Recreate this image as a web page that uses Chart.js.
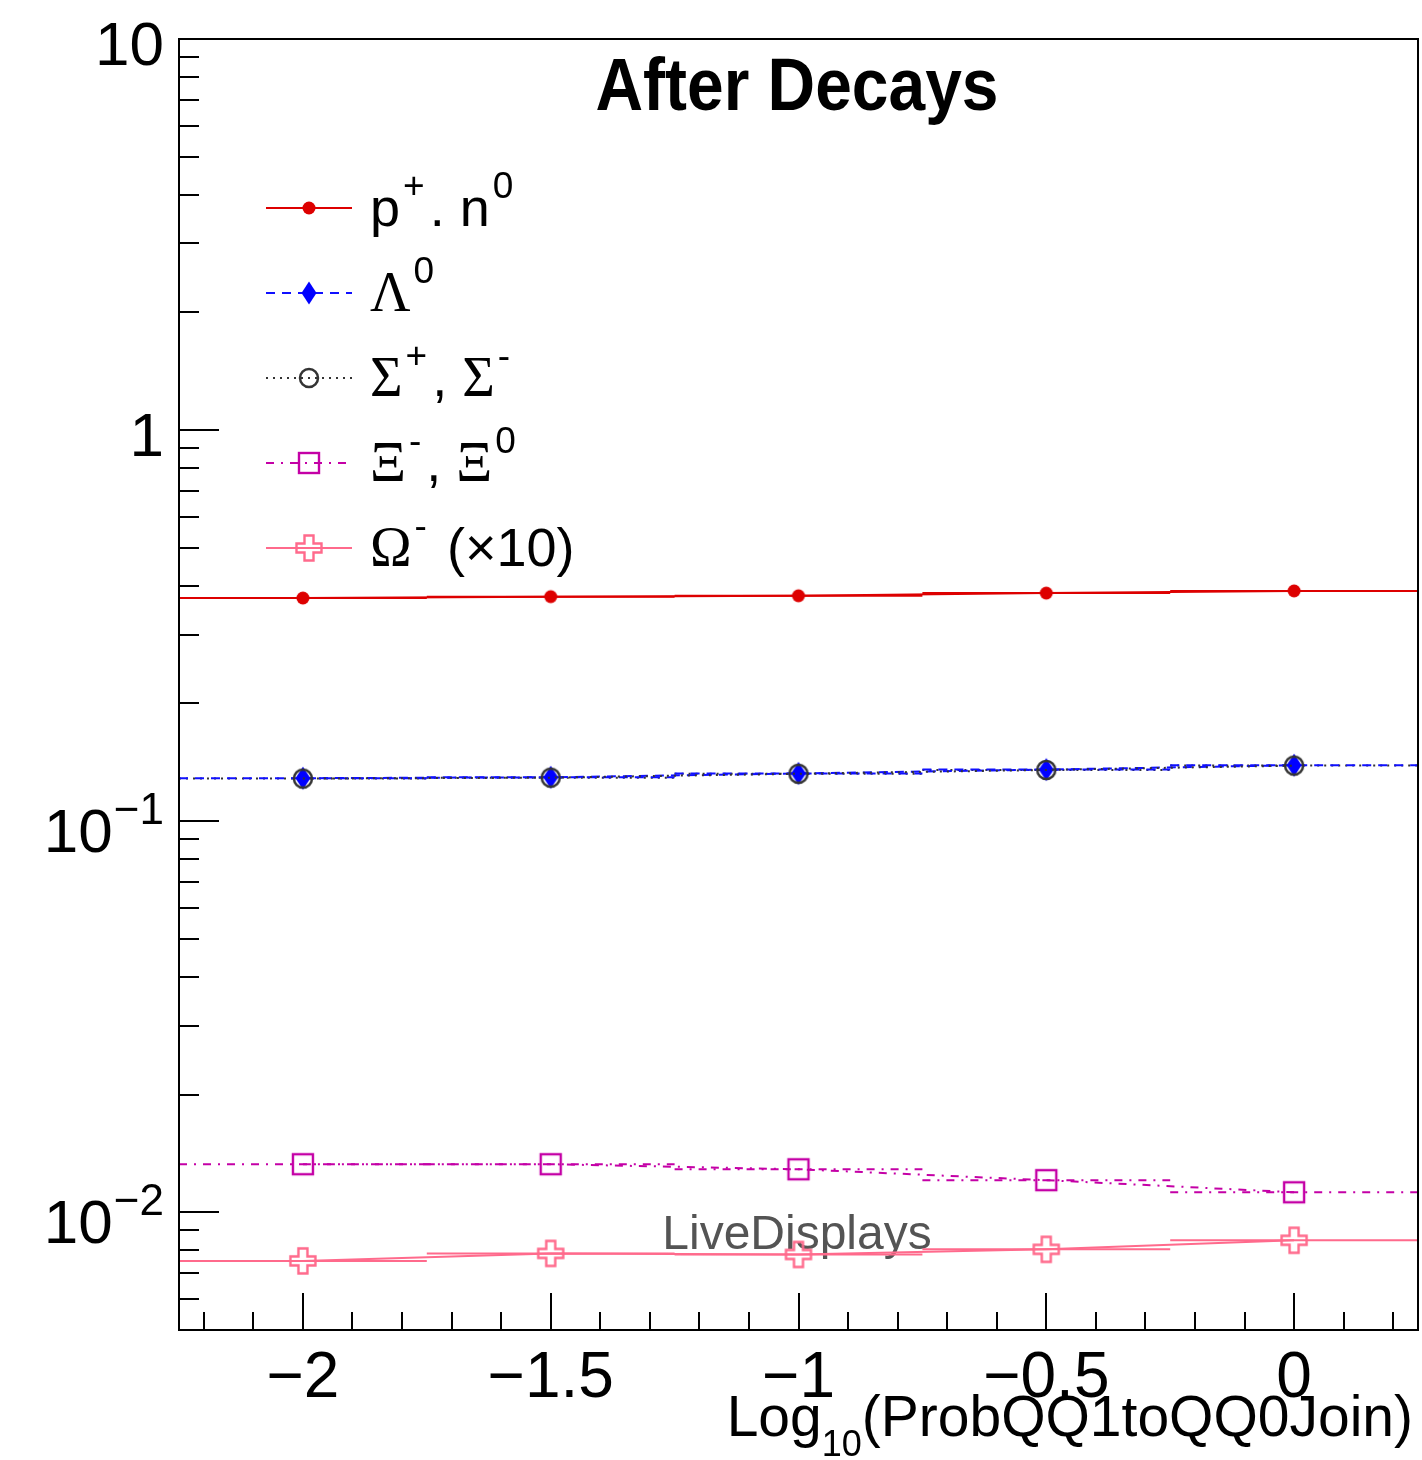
<!DOCTYPE html>
<html><head><meta charset="utf-8">
<script src="https://cdn.jsdelivr.net/npm/chart.js@4.4.1/dist/chart.umd.min.js"></script>
<style>html,body{margin:0;padding:0;background:#fff;} canvas{display:block;}</style>
</head><body>
<canvas id="c" width="1422" height="1460"></canvas>
<script>
// ---- data ----
const xValues = [-2, -1.5, -1, -0.5, 0];
const protonNeutron = [0.372, 0.375, 0.377, 0.383, 0.388];
const lambda0 = [0.1288, 0.1295, 0.1325, 0.1355, 0.1390];
const sigmaPM = [0.1285, 0.1292, 0.1322, 0.1352, 0.1387];
const xiM0 = [0.01327, 0.01327, 0.01288, 0.01208, 0.01125];
const omegaX10 = [0.00751, 0.00785, 0.00780, 0.00804, 0.00848];

const xTickValues = [-2, -1.5, -1, -0.5, 0];
const xTickLabels = ['\u22122', '\u22121.5', '\u22121', '\u22120.5', '0'];
const yTickValues = [10, 1, 0.1, 0.01];
const yTickLabels = [['10', ''], ['1', ''], ['10', '\u22121'], ['10', '\u22122']];

const titleText = 'After Decays';
const watermarkText = 'LiveDisplays';
const xTitleRuns = [{t: 'Log', sub: false}, {t: '10', sub: true}, {t: '(ProbQQ1toQQ0Join)', sub: false}];

const SANS = '"Liberation Sans", Arial, Helvetica, sans-serif';
const SERIF = '"Liberation Serif", "Times New Roman", serif';

// legend labels as text runs (f: s=sans, g=serif greek, u=superscript)
const legendLabels = [
  [{t: 'p', f: 's'}, {t: '+', f: 'u'}, {t: '. n', f: 's'}, {t: '0', f: 'u'}],
  [{t: '\u039B', f: 'g'}, {t: '0', f: 'u'}],
  [{t: '\u03A3', f: 'g'}, {t: '+', f: 'u'}, {t: ', ', f: 's'}, {t: '\u03A3', f: 'g'}, {t: '-', f: 'u'}],
  [{t: '\u039E', f: 'g'}, {t: '-', f: 'u'}, {t: ', ', f: 's'}, {t: '\u039E', f: 'g'}, {t: '0', f: 'u'}],
  [{t: '\u03A9', f: 'g'}, {t: '-', f: 'u'}, {t: ' (\u00D710)', f: 's'}]
];

// ---- markers ----
function mk(w, h, draw) {
  const c = document.createElement('canvas');
  c.width = w; c.height = h;
  draw(c.getContext('2d'));
  return c;
}
const RED = '#dd0000', BLUE = '#1010ff', GREY = '#333333', MAG = '#c400a6', PINK = '#ff6a8c';
const mDot = mk(16, 16, g => { g.fillStyle = RED; g.beginPath(); g.arc(8, 8, 6.5, 0, Math.PI * 2); g.fill(); });
const mDiamond = mk(20, 26, g => { g.fillStyle = '#0000ff'; g.beginPath(); g.moveTo(10, 1.5); g.lineTo(17.5, 13); g.lineTo(10, 24.5); g.lineTo(2.5, 13); g.closePath(); g.fill(); });
const mCircle = mk(24, 24, g => { g.strokeStyle = GREY; g.lineWidth = 2.5; g.beginPath(); g.arc(12, 12, 9, 0, Math.PI * 2); g.stroke(); });
const mSquare = mk(26, 26, g => { g.strokeStyle = MAG; g.lineWidth = 2.4; g.strokeRect(3, 3, 20, 20); });
const mCross = mk(30, 30, g => {
  g.strokeStyle = PINK; g.lineWidth = 2.4; const c = 15, a = 4.5, L = 12.5;
  g.beginPath();
  g.moveTo(c - a, c - L); g.lineTo(c + a, c - L); g.lineTo(c + a, c - a); g.lineTo(c + L, c - a);
  g.lineTo(c + L, c + a); g.lineTo(c + a, c + a); g.lineTo(c + a, c + L); g.lineTo(c - a, c + L);
  g.lineTo(c - a, c + a); g.lineTo(c - L, c + a); g.lineTo(c - L, c - a); g.lineTo(c - a, c - a); g.closePath();
  g.stroke();
});

const series = [
  {vals: protonNeutron, color: RED, dash: [], marker: mDot},
  {vals: lambda0, color: BLUE, dash: [9, 7], marker: mDiamond},
  {vals: sigmaPM, color: GREY, dash: [2, 5], marker: mCircle},
  {vals: xiM0, color: MAG, dash: [8, 7, 2, 7], marker: mSquare},
  {vals: omegaX10, color: PINK, dash: [], marker: mCross}
];

const halfBin = (xValues[1] - xValues[0]) / 2;
const datasets = [];
// markers + polylines
series.slice().reverse().forEach(s => {
  datasets.push({
    data: xValues.map((x, i) => ({x: x, y: s.vals[i]})),
    showLine: true, borderColor: s.color, borderWidth: 2, borderDash: s.dash,
    pointStyle: s.marker, pointRadius: 8, pointHoverRadius: 8, tension: 0, fill: false
  });
});
// histogram bin segments
series.forEach(s => {
  const d = [];
  xValues.forEach((x, i) => {
    d.push({x: x - halfBin, y: s.vals[i]}); d.push({x: x + halfBin, y: s.vals[i]}); d.push({x: x + halfBin, y: null});
  });
  datasets.push({
    data: d, showLine: true, spanGaps: false, borderColor: s.color, borderWidth: 2, borderDash: s.dash,
    pointRadius: 0, pointHoverRadius: 0, tension: 0, fill: false
  });
});

const X_MIN = -2.25, X_MAX = 0.25, Y_MIN = 0.005, Y_MAX = 10;

function runsWidth(ctx, runs, fonts) {
  let w = 0;
  runs.forEach(r => { ctx.font = fonts(r); w += ctx.measureText(r.t).width; });
  return w;
}

const decor = {
  id: 'decor',
  beforeDatasetsDraw(chart) {
    const ctx = chart.ctx;
    ctx.save();
    ctx.font = '48px ' + SANS; ctx.fillStyle = '#545454'; ctx.textAlign = 'center'; ctx.textBaseline = 'alphabetic';
    ctx.fillText(watermarkText, 797, 1249);
    ctx.restore();
  },
  afterDatasetsDraw(chart) {
    const ctx = chart.ctx, a = chart.chartArea, xs = chart.scales.x, ys = chart.scales.y;
    ctx.save();
    ctx.strokeStyle = '#000'; ctx.lineWidth = 2; ctx.setLineDash([]);
    ctx.strokeRect(a.left, a.top, a.right - a.left, a.bottom - a.top);
    // x ticks
    ctx.beginPath();
    for (let k = Math.ceil(X_MIN * 10 - 1e-9); k <= Math.floor(X_MAX * 10 + 1e-9); k++) {
      const px = Math.round(xs.getPixelForValue(k / 10));
      const len = (k % 5 === 0) ? 37 : 18;
      ctx.moveTo(px, a.bottom); ctx.lineTo(px, a.bottom - len);
    }
    // y ticks
    for (let e = -3; e <= 1; e++) {
      for (let m = 1; m <= 9; m++) {
        const v = m * Math.pow(10, e);
        if (v < Y_MIN * 0.999 || v > Y_MAX * 1.001) continue;
        const py = Math.round(ys.getPixelForValue(v));
        const len = (m === 1) ? 40 : 20;
        ctx.moveTo(a.left, py); ctx.lineTo(a.left + len, py);
      }
    }
    ctx.stroke();
    ctx.fillStyle = '#000';
    // x labels
    ctx.font = '64px ' + SANS; ctx.textAlign = 'center'; ctx.textBaseline = 'alphabetic';
    xTickValues.forEach((v, i) => ctx.fillText(xTickLabels[i], xs.getPixelForValue(v), 1397));
    // y labels
    ctx.textAlign = 'right';
    yTickValues.forEach((v, i) => {
      const py = ys.getPixelForValue(v);
      const [base, exp] = yTickLabels[i];
      if (!exp) {
        ctx.font = '62px ' + SANS; ctx.fillText(base, 164, py + 26);
      } else {
        ctx.font = '44px ' + SANS; const w = ctx.measureText(exp).width;
        ctx.fillText(exp, 164, py + 3);
        ctx.font = '62px ' + SANS; ctx.fillText(base, 164 - w - 1, py + 31);
      }
    });
    // x title
    ctx.textAlign = 'left';
    const fx = r => (r.sub ? '36px ' : '57px ') + SANS;
    let tx = 1413 - runsWidth(ctx, xTitleRuns, fx);
    xTitleRuns.forEach(r => {
      ctx.font = fx(r); ctx.fillText(r.t, tx, r.sub ? 1456 : 1436); tx += ctx.measureText(r.t).width;
    });
    // title
    ctx.font = 'bold 74px ' + SANS;
    const tw = ctx.measureText(titleText).width;
    const sx = 403 / tw;
    ctx.save(); ctx.translate(797, 110); ctx.scale(sx, 1); ctx.textAlign = 'center';
    ctx.fillText(titleText, 0, 0); ctx.restore();
    // legend
    const rowY = [208, 293, 378, 463, 548];
    const fl = r => r.f === 'u' ? '37px ' + SANS : (r.f === 'g' ? '56px ' + SERIF : '54px ' + SANS);
    series.forEach((s, i) => {
      const y = rowY[i];
      ctx.strokeStyle = s.color; ctx.lineWidth = 2; ctx.setLineDash(s.dash);
      ctx.beginPath(); ctx.moveTo(266, y); ctx.lineTo(352, y); ctx.stroke();
      ctx.setLineDash([]);
      ctx.drawImage(s.marker, 309 - s.marker.width / 2, y - s.marker.height / 2);
      let lx = 370;
      ctx.fillStyle = '#000'; ctx.textAlign = 'left';
      legendLabels[i].forEach(r => {
        ctx.font = fl(r);
        if (r.f === 'u') { lx += 3; ctx.fillText(r.t, lx, y - 10); lx += ctx.measureText(r.t).width + 5; }
        else { ctx.fillText(r.t, lx, y + 18); lx += ctx.measureText(r.t).width; }
      });
    });
    ctx.restore();
  }
};

new Chart(document.getElementById('c'), {
  type: 'scatter',
  data: {datasets: datasets},
  options: {
    responsive: false, animation: false, devicePixelRatio: 1,
    layout: {autoPadding: false, padding: {left: 179, right: 4, top: 39, bottom: 130}},
    plugins: {legend: {display: false}, title: {display: false}, tooltip: {enabled: false}},
    events: [],
    scales: {
      x: {type: 'linear', min: X_MIN, max: X_MAX, display: false},
      y: {type: 'logarithmic', min: Y_MIN, max: Y_MAX, display: false}
    }
  },
  plugins: [decor]
});
</script>
</body></html>
